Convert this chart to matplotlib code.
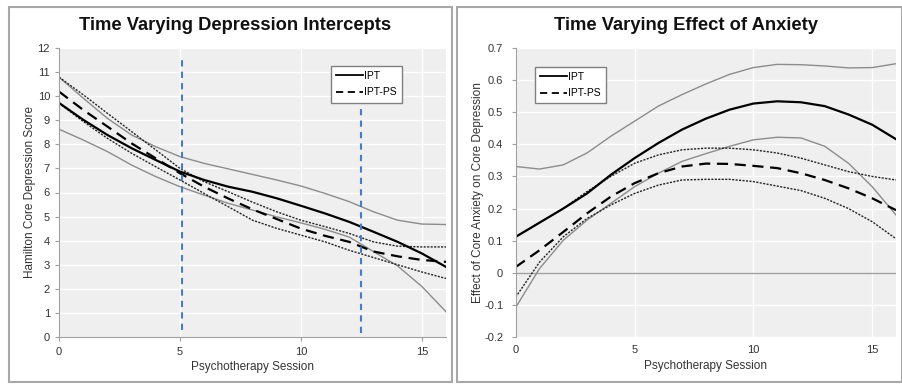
import numpy as np
import matplotlib
matplotlib.use('Agg')
import matplotlib.pyplot as plt
from matplotlib.patches import Rectangle
from matplotlib.lines import Line2D

plt.rcParams['font.family'] = ['Liberation Sans', 'DejaVu Sans']

# psychotherapy sessions
sessions = list(range(17))

# left panel: time varying depression intercepts
ipt_int = [9.72, 9.02, 8.39, 7.84, 7.35, 6.87, 6.52, 6.24, 6.03, 5.76, 5.45, 5.13, 4.78, 4.37, 3.95, 3.47, 2.91]
ipt_int_hi = [10.79, 9.92, 9.08, 8.39, 7.9, 7.49, 7.21, 6.98, 6.75, 6.52, 6.27, 5.96, 5.62, 5.2, 4.85, 4.69, 4.67]
ipt_int_lo = [8.63, 8.18, 7.7, 7.14, 6.66, 6.24, 5.89, 5.55, 5.27, 4.99, 4.74, 4.47, 4.15, 3.55, 2.95, 2.1, 1.05]
ps_int = [10.19, 9.43, 8.74, 8.04, 7.42, 6.8, 6.24, 5.75, 5.3, 4.9, 4.5, 4.2, 3.95, 3.55, 3.35, 3.2, 3.12]
ps_int_hi = [10.79, 10.06, 9.29, 8.53, 7.77, 7.0, 6.45, 6.03, 5.6, 5.2, 4.85, 4.58, 4.3, 3.95, 3.77, 3.74, 3.74]
ps_int_lo = [9.71, 8.95, 8.25, 7.63, 7.07, 6.52, 5.96, 5.41, 4.85, 4.51, 4.23, 3.95, 3.6, 3.3, 3.0, 2.7, 2.43]

# session markers (blue dashed) and their vertical extent
marker_sessions = [5.1, 12.5]
marker_tops = [11.7, 9.7]
marker_bottoms = [0.28, 0.15]

# right panel: time varying effect of anxiety
ipt_eff = [0.112, 0.156, 0.2, 0.247, 0.305, 0.357, 0.404, 0.446, 0.48, 0.508, 0.527, 0.534, 0.531, 0.519, 0.493, 0.461, 0.416]
ipt_eff_hi = [0.331, 0.323, 0.336, 0.373, 0.425, 0.472, 0.519, 0.555, 0.588, 0.618, 0.639, 0.649, 0.648, 0.644, 0.638, 0.639, 0.651]
ipt_eff_lo = [-0.108, 0.013, 0.101, 0.164, 0.216, 0.268, 0.31, 0.347, 0.371, 0.394, 0.414, 0.422, 0.42, 0.394, 0.341, 0.268, 0.18]
ps_eff = [0.018, 0.07, 0.127, 0.185, 0.237, 0.279, 0.31, 0.331, 0.34, 0.339, 0.333, 0.326, 0.31, 0.289, 0.263, 0.232, 0.195]
ps_eff_hi = [0.112, 0.156, 0.2, 0.253, 0.3, 0.341, 0.367, 0.383, 0.388, 0.388, 0.383, 0.373, 0.357, 0.336, 0.315, 0.3, 0.289]
ps_eff_lo = [-0.076, 0.033, 0.112, 0.169, 0.211, 0.247, 0.273, 0.289, 0.291, 0.291, 0.284, 0.27, 0.256, 0.232, 0.2, 0.159, 0.106]

W, H = 903, 384
fig = plt.figure(figsize=(W / 100, H / 100), dpi=100)
fig.patch.set_facecolor('white')

# panel frames
for x0, x1 in [(9, 452), (457, 902)]:
    fig.add_artist(Rectangle((x0 / W, 1 - 382 / H), (x1 - x0) / W, (382 - 7) / H,
                             transform=fig.transFigure, fill=False,
                             edgecolor='#a8a8a8', lw=1.5))


def px_axes(x0, x1, y0, y1):
    return fig.add_axes([x0 / W, 1 - y1 / H, (x1 - x0) / W, (y1 - y0) / H])


def style(ax):
    ax.set_facecolor('#efefef')
    ax.grid(True, color='white', lw=0.9)
    ax.set_axisbelow(True)
    for s in ['top', 'right']:
        ax.spines[s].set_visible(False)
    for s in ['left', 'bottom']:
        ax.spines[s].set_color('#a0a0a0')
    ax.tick_params(colors='#a0a0a0', labelcolor='#333333', labelsize=8, length=3, width=0.8)


def draw(ax, est, hi, lo, ps, ps_hi, ps_lo):
    ax.plot(sessions, hi, color='#8c8c8c', lw=1.0)
    ax.plot(sessions, lo, color='#8c8c8c', lw=1.0)
    ax.plot(sessions, ps_hi, color='#222222', lw=1.0, dashes=(1.5, 1))
    ax.plot(sessions, ps_lo, color='#222222', lw=1.0, dashes=(1.5, 1))
    ax.plot(sessions, est, color='black', lw=1.6)
    ax.plot(sessions, ps, color='black', lw=1.6, dashes=(5, 3))


def legend(ax, x, y):
    handles = [Line2D([], [], color='black', lw=1.3),
               Line2D([], [], color='black', lw=1.3, dashes=(4, 2.5))]
    leg = ax.legend(handles, ['IPT', 'IPT-PS'], loc='upper left', bbox_to_anchor=(x, y),
                    fontsize=7.5, frameon=True, fancybox=False, framealpha=1,
                    edgecolor='#808080', handlelength=2.6, handletextpad=0.1,
                    borderpad=0.5, labelspacing=0.6, borderaxespad=0)
    leg.get_frame().set_linewidth(1.0)


# left panel
ax1 = px_axes(59, 446, 48, 337)
style(ax1)
draw(ax1, ipt_int, ipt_int_hi, ipt_int_lo, ps_int, ps_int_hi, ps_int_lo)
for xs, top, bot in zip(marker_sessions, marker_tops, marker_bottoms):
    ax1.plot([xs, xs], [bot, top], color='#4a7cc6', lw=1.5, dashes=(3, 2.5))
ax1.set_xlim(0, 16)
ax1.set_ylim(0, 12)
ax1.set_xticks([0, 5, 10, 15])
ax1.set_yticks(range(13))
ax1.tick_params(axis='x', pad=4)
ax1.set_xlabel('Psychotherapy Session', fontsize=8.5, color='#333333', labelpad=3)
ax1.set_ylabel('Hamilton Core Depression Score', fontsize=8.5, color='#333333', labelpad=1)
legend(ax1, 0.703, 0.938)
fig.text(235 / W, 1 - 25 / H, 'Time Varying Depression Intercepts', ha='center', va='center',
         fontsize=13.2, fontweight='bold', color='#111111')

# right panel
ax2 = px_axes(515.7, 896, 48, 337)
style(ax2)
ax2.spines['bottom'].set_visible(False)
ax2.axhline(0, color='#a0a0a0', lw=1.0, zorder=1.5)
draw(ax2, ipt_eff, ipt_eff_hi, ipt_eff_lo, ps_eff, ps_eff_hi, ps_eff_lo)
ax2.set_xlim(0, 16)
ax2.set_ylim(-0.2, 0.7)
ax2.set_xticks([0, 5, 10, 15])
ax2.set_yticks(np.round(np.arange(-0.2, 0.71, 0.1), 1))
ax2.set_yticklabels(['-0.2', '-0.1', '0', '0.1', '0.2', '0.3', '0.4', '0.5', '0.6', '0.7'])
ax2.tick_params(axis='x', length=0, pad=6)
ax2.tick_params(axis='y', pad=6)
ax2.set_xlabel('Psychotherapy Session', fontsize=8.5, color='#333333', labelpad=3)
ax2.set_ylabel('Effect of Core Anxiety on Core Depression', fontsize=8.5, color='#333333', labelpad=0)
legend(ax2, 0.051, 0.935)
fig.text(686 / W, 1 - 26 / H, 'Time Varying Effect of Anxiety', ha='center', va='center',
         fontsize=13.2, fontweight='bold', color='#111111')

fig.savefig('out.png', dpi=100)
